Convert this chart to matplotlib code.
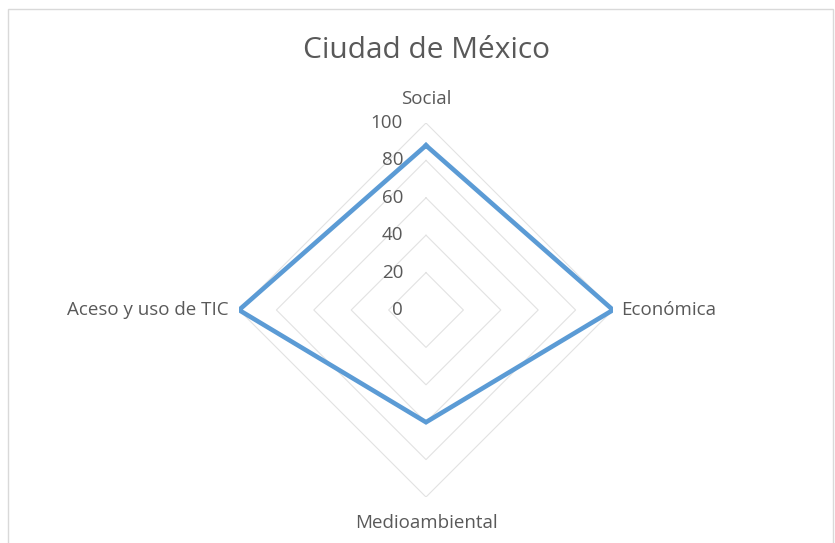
import numpy as np
import matplotlib
matplotlib.use('Agg')
import matplotlib.pyplot as plt
from matplotlib.patches import Rectangle

categories = ['Social', 'Económica', 'Medioambiental', 'Aceso y uso de TIC']
values = [88, 100, 60, 100]
ring_levels = [0, 20, 40, 60, 80, 100]
title = 'Ciudad de México'

plt.rcParams['font.family'] = ['Open Sans', 'DejaVu Sans']
text_col = '#595959'
grid_col = '#e2e2e2'

W, H = 835, 543
fig = plt.figure(figsize=(W / 100, H / 100), dpi=100)

# chart border
fig.patches.append(Rectangle((8 / W, -0.01), (W - 10) / W, (H - 9) / H + 0.01,
                             transform=fig.transFigure, fill=False,
                             edgecolor='#d9d9d9', linewidth=1))

cx, cy, R = 426, 310, 187
ax = fig.add_axes([(cx - R) / W, (H - cy - R) / H, 2 * R / W, 2 * R / H],
                  projection='polar')
ax.set_theta_offset(np.pi / 2)
ax.set_theta_direction(-1)
ax.set_ylim(0, 100)
ax.grid(False)
ax.spines['polar'].set_visible(False)
ax.set_xticks([])
ax.set_yticks([])
ax.patch.set_alpha(0)

n = len(categories)
angles = np.linspace(0, 2 * np.pi, n, endpoint=False)
closed = np.append(angles, angles[0])

for lv in ring_levels[1:]:
    ax.plot(closed, [lv] * (n + 1), color=grid_col, linewidth=0.8, zorder=1)

ax.plot(closed, values + values[:1], color='#5b9bd5', linewidth=3.3,
        solid_joinstyle='miter', zorder=3)

for lv in ring_levels:
    ax.annotate(str(lv), (0, lv), xytext=(-23, 0), textcoords='offset pixels',
                ha='right', va='center', fontsize=13.5, color=text_col)

offsets = [(0, 24, 'center', 'center'), (8, 0, 'left', 'center'),
           (0, -26, 'center', 'center'), (-10, 0, 'right', 'center')]
for ang, lab, (dx, dy, ha, va) in zip(angles, categories, offsets):
    ax.annotate(lab, (ang, 100), xytext=(dx, dy), textcoords='offset pixels',
                ha=ha, va=va, fontsize=13.5, color=text_col,
                annotation_clip=False)

fig.text(cx / W, 1 - 50 / H, title, ha='center', va='center',
         fontsize=21.5, color=text_col)

fig.savefig('out.png', dpi=100)
